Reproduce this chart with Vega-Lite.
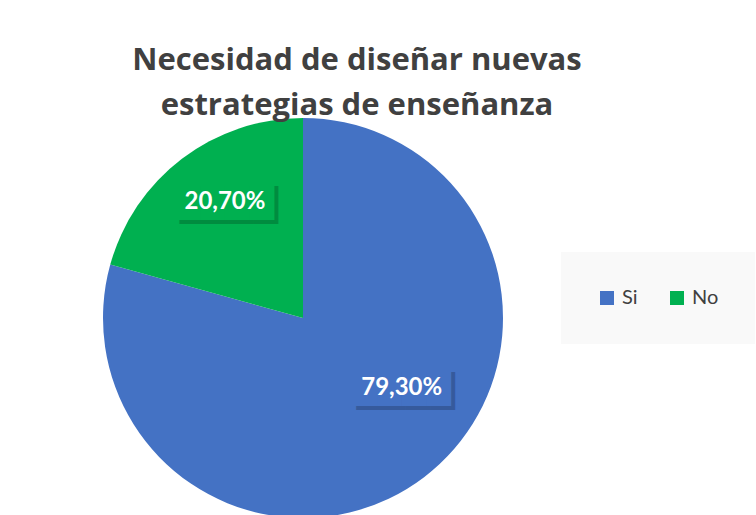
{
  "$schema": "https://vega.github.io/schema/vega-lite/v6.json",
  "width": 400,
  "height": 400,
  "autosize": {"type": "none"},
  "padding": {"left": 103, "top": 118, "right": 253, "bottom": 0},
  "background": "white",
  "title": {
    "text": ["Necesidad de diseñar nuevas", "estrategias de enseñanza"],
    "anchor": "middle",
    "frame": "group",
    "dx": 54,
    "offset": -4,
    "font": "Open Sans",
    "fontSize": 31,
    "fontWeight": "bold",
    "color": "#404040",
    "lineHeight": 45
  },
  "data": {
    "values": [
      {"category": "Si", "value": 0.793},
      {"category": "No", "value": 0.207}
    ]
  },
  "encoding": {
    "theta": {"field": "value", "type": "quantitative", "stack": true},
    "order": {"field": "category", "sort": "descending"}
  },
  "layer": [
    {
      "mark": {"type": "arc", "strokeWidth": 0},
      "encoding": {
        "color": {
          "field": "category",
          "type": "nominal",
          "sort": ["Si", "No"],
          "scale": {"domain": ["Si", "No"], "range": ["#4472C4", "#00B050"]},
          "legend": {
            "title": null,
            "orient": "none",
            "legendX": 458,
            "legendY": 134,
            "direction": "horizontal",
            "symbolType": "square",
            "symbolSize": 196,
            "symbolStrokeWidth": 0,
            "labelFont": "Lato",
            "labelFontSize": 20,
            "labelColor": "#404040",
            "labelOffset": 5,
            "columnPadding": 29,
            "padding": 36,
            "fillColor": "#f9f9f9"
          }
        }
      }
    },
    {
      "mark": {"type": "text", "font": "DejaVu Sans", "fontSize": 32, "align": "center", "baseline": "middle", "color": "black", "opacity": 0.2, "dx": 4, "dy": 4, "thetaOffset": 0.059},
      "encoding": {
        "radius": {"value": 140},
        "text": {"condition": {"test": "datum.category === 'No'", "value": "████"}, "value": ""}
      }
    },
    {
      "mark": {"type": "text", "font": "DejaVu Sans", "fontSize": 32, "align": "center", "baseline": "middle", "color": "#00B050", "thetaOffset": 0.059},
      "encoding": {
        "radius": {"value": 140},
        "text": {"condition": {"test": "datum.category === 'No'", "value": "████"}, "value": ""}
      }
    },
    {
      "mark": {"type": "text", "font": "Lato", "fontSize": 24, "fontWeight": "bold", "align": "center", "baseline": "middle", "color": "white", "thetaOffset": 0.059},
      "encoding": {
        "radius": {"value": 140},
        "text": {"condition": {"test": "datum.category === 'No'", "field": "value", "type": "quantitative", "format": ".2%"}, "value": ""}
      }
    },
    {
      "mark": {"type": "text", "font": "DejaVu Sans", "fontSize": 32, "align": "center", "baseline": "middle", "color": "black", "opacity": 0.2, "dx": 4, "dy": 4, "thetaOffset": -0.304},
      "encoding": {
        "radius": {"value": 121},
        "text": {"condition": {"test": "datum.category === 'Si'", "value": "████"}, "value": ""}
      }
    },
    {
      "mark": {"type": "text", "font": "DejaVu Sans", "fontSize": 32, "align": "center", "baseline": "middle", "color": "#4472C4", "thetaOffset": -0.304},
      "encoding": {
        "radius": {"value": 121},
        "text": {"condition": {"test": "datum.category === 'Si'", "value": "████"}, "value": ""}
      }
    },
    {
      "mark": {"type": "text", "font": "Lato", "fontSize": 24, "fontWeight": "bold", "align": "center", "baseline": "middle", "color": "white", "thetaOffset": -0.304},
      "encoding": {
        "radius": {"value": 121},
        "text": {"condition": {"test": "datum.category === 'Si'", "field": "value", "type": "quantitative", "format": ".2%"}, "value": ""}
      }
    }
  ],
  "config": {
    "view": {"stroke": null},
    "locale": {
      "number": {"decimal": ",", "thousands": ".", "grouping": [3], "currency": ["", " €"]}
    }
  }
}
